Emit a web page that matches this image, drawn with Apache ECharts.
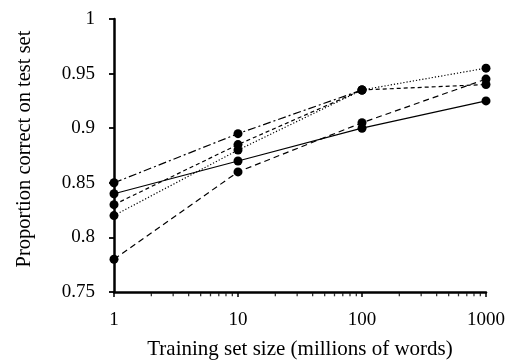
<!DOCTYPE html>
<html>
<head>
<meta charset="utf-8">
<script src="https://cdn.jsdelivr.net/npm/echarts@6/dist/echarts.min.js"></script>
<style>
html,body{margin:0;padding:0;background:#fff;}
#c{width:511px;height:360px;}
</style>
</head>
<body>
<div id="c"></div>
<script>
// Training set sizes (millions of words)
var sizes = [1, 10, 100, 1000];
// Series values (proportion correct on test set)
var dashDotVals   = [0.85, 0.895, 0.935, null];
var solidVals     = [0.84, 0.87, 0.90, 0.925];
var shortDashVals = [0.83, 0.885, 0.935, 0.94];
var dottedVals    = [0.82, 0.88, 0.935, 0.955];
var longDashVals  = [0.78, 0.86, 0.905, 0.945];
// Tick labels
var xTickLabels = [1, 10, 100, 1000];
var xMinorTicks = [2,3,4,5,6,7,8,9,20,30,40,50,60,70,80,90,200,300,400,500,600,700,800,900];
var yTickLabels = [0.75, 0.8, 0.85, 0.9, 0.95, 1];

var FONT = "'Liberation Serif', 'Times New Roman', serif";

function pairs(vals) {
  var out = [];
  for (var i = 0; i < sizes.length; i++) {
    if (vals[i] !== null) out.push([sizes[i], vals[i]]);
  }
  return out;
}

function mk(name, vals, dash) {
  return {
    name: name,
    type: 'line',
    data: pairs(vals),
    symbol: 'circle',
    symbolSize: 9,
    itemStyle: { color: '#000' },
    lineStyle: { color: '#000', width: 1.2, type: dash },
    z: 3,
    animation: false
  };
}

var yMin = yTickLabels[0];
var minorTickData = xMinorTicks.map(function (v) { return [v, yMin]; });

var chart = echarts.init(document.getElementById('c'), null, { renderer: 'canvas' });
chart.setOption({
  animation: false,
  grid: { left: 114, right: 25, top: 19, bottom: 68, containLabel: false, outerBoundsMode: 'none' },
  xAxis: {
    type: 'log',
    logBase: 10,
    min: 1,
    max: 1000,
    name: 'Training set size (millions of words)',
    nameLocation: 'middle',
    nameGap: 47,
    nameTextStyle: { fontFamily: FONT, fontSize: 21, color: '#000' },
    axisLine: { show: true, lineStyle: { color: '#000', width: 2.5 } },
    axisTick: { show: true, inside: false, length: 5, lineStyle: { color: '#000', width: 1.5 }, customValues: xTickLabels },
    axisLabel: {
      fontFamily: FONT, fontSize: 19, color: '#000', margin: 19, customValues: xTickLabels,
      formatter: function (v) { return String(v); }
    },
    splitLine: { show: false }
  },
  yAxis: {
    type: 'value',
    min: 0.75,
    max: 1,
    interval: 0.05,
    name: 'Proportion correct on test set',
    nameLocation: 'middle',
    nameGap: 79,
    nameTextStyle: { fontFamily: FONT, fontSize: 20.5, color: '#000', padding: [0, 0, 0, 13] },
    axisLine: { show: true, lineStyle: { color: '#000', width: 2.5 } },
    axisTick: { show: true, inside: false, length: 5, lineStyle: { color: '#000', width: 1.8 }, customValues: yTickLabels },
    axisLabel: {
      fontFamily: FONT, fontSize: 19, color: '#000', margin: 19, customValues: yTickLabels,
      formatter: function (v) { return String(+v.toFixed(2)); }
    },
    splitLine: { show: false }
  },
  series: [
    {
      name: 'minorTicks',
      type: 'scatter',
      data: minorTickData,
      symbol: 'rect',
      symbolSize: [1.3, 3],
      symbolOffset: [0, 2.8],
      itemStyle: { color: '#000' },
      clip: false,
      silent: true,
      z: 1
    },
    mk('dashdot', dashDotVals, [8, 3, 2, 3]),
    mk('solid', solidVals, 'solid'),
    mk('shortdash', shortDashVals, [4, 3]),
    mk('dotted', dottedVals, [1.2, 2]),
    mk('longdash', longDashVals, [6, 4])
  ]
});
</script>
</body>
</html>
